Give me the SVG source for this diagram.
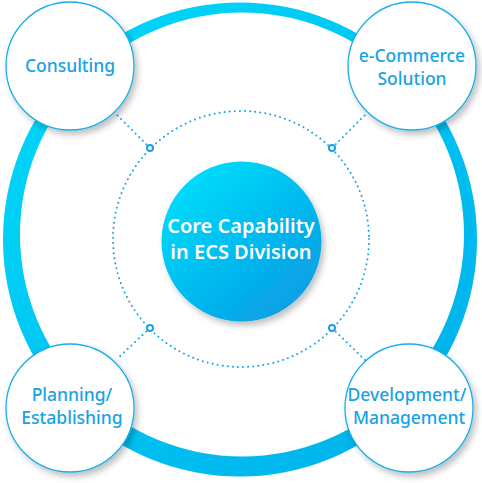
<svg xmlns="http://www.w3.org/2000/svg" width="482" height="483" viewBox="0 0 482 483">
<defs>
<linearGradient id="ringG" x1="0" y1="0" x2="1" y2="1">
<stop offset="0" stop-color="#00dafa"/>
<stop offset="1" stop-color="#00aeea"/>
</linearGradient>
<linearGradient id="coreG" x1="0.15" y1="0.1" x2="0.85" y2="0.9">
<stop offset="0" stop-color="#00dcfa"/>
<stop offset="1" stop-color="#089ee6"/>
</linearGradient>
<filter id="sh" x="-30%" y="-30%" width="160%" height="160%">
<feGaussianBlur in="SourceAlpha" stdDeviation="3"/>
<feOffset dx="3" dy="4" result="b"/>
<feComponentTransfer><feFuncA type="linear" slope="0.25"/></feComponentTransfer>
<feMerge><feMergeNode/><feMergeNode in="SourceGraphic"/></feMerge>
</filter>
</defs>
<style>
.node{fill:#fff;stroke:#19aee8;stroke-width:1.3}
.lbl{font-family:"Noto Sans","Open Sans",sans-serif;font-size:17.5px;font-weight:500;fill:#18a2e4;text-anchor:middle}
.core{font-family:"Noto Sans","Open Sans",sans-serif;font-size:20px;font-weight:600;fill:#fff;text-anchor:middle}
.dot{fill:none;stroke:#1aa8e6;stroke-width:2;stroke-dasharray:0.1 5;stroke-linecap:round}
.hub{fill:#fff;stroke:#1aa0e4;stroke-width:2}
</style>
<path fill="url(#ringG)" fill-rule="evenodd" d="M3,239.5 A237,237 0 1 0 477,239.5 A237,237 0 1 0 3,239.5 Z M20,234.5 A222,222 0 1 0 464,234.5 A222,222 0 1 0 20,234.5 Z"/>
<g id="connectors">
<circle class="dot" cx="241" cy="239" r="128"/>
<line class="dot" x1="150" y1="148" x2="117" y2="115"/>
<line class="dot" x1="332" y1="148" x2="365" y2="115"/>
<line class="dot" x1="150" y1="328" x2="118" y2="358"/>
<line class="dot" x1="332" y1="328" x2="365" y2="360"/>
<circle class="hub" cx="150" cy="148" r="3"/>
<circle class="hub" cx="332" cy="148" r="3"/>
<circle class="hub" cx="150" cy="328" r="3"/>
<circle class="hub" cx="332" cy="328" r="3"/>
</g>
<g id="core">
<circle cx="241.5" cy="241.5" r="80" fill="url(#coreG)" filter="url(#sh)"/>
<text class="core" x="241" y="233">Core Capability</text>
<text class="core" x="241" y="259">in ECS Division</text>
</g>
<g id="consulting">
<circle class="node" cx="70" cy="66" r="64" filter="url(#sh)"/>
<text class="lbl" x="70" y="72">Consulting</text>
</g>
<g id="ecommerce">
<circle class="node" cx="412" cy="66" r="64" filter="url(#sh)"/>
<text class="lbl" x="412" y="62">e-Commerce</text>
<text class="lbl" x="412" y="85">Solution</text>
</g>
<g id="planning">
<circle class="node" cx="70" cy="408" r="64" filter="url(#sh)"/>
<text class="lbl" x="72" y="401">Planning/</text>
<text class="lbl" x="72" y="424">Establishing</text>
</g>
<g id="development">
<circle class="node" cx="409" cy="408" r="64" filter="url(#sh)"/>
<text class="lbl" x="407" y="401">Development/</text>
<text class="lbl" x="409" y="424">Management</text>
</g>
</svg>
